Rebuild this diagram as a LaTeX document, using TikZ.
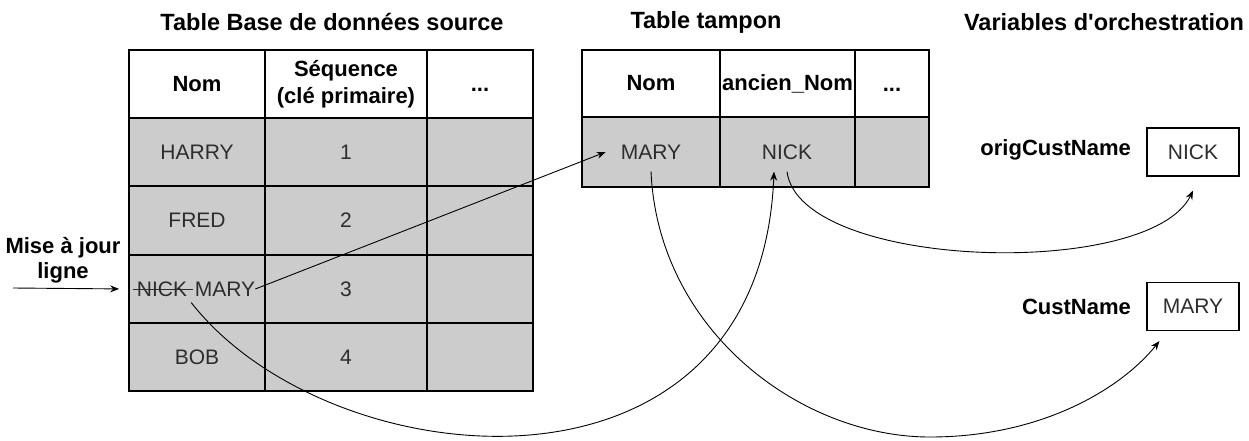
\documentclass[tikz,border=0pt]{standalone}
\usepackage{fontspec}
\setmainfont{Liberation Sans}[Ligatures=TeXOff]
\usetikzlibrary{arrows.meta}
\definecolor{cellgray}{RGB}{204,204,204}
\definecolor{txtgray}{RGB}{45,45,45}
\begin{document}
\begin{tikzpicture}[x=1pt,y=-1pt,
  font=\fontsize{21}{25}\selectfont,
  base/.style={draw=black, line width=1.7pt, inner sep=0pt, align=center},
  hcell/.style={base, fill=white, font=\fontsize{22}{27}\selectfont\bfseries},
  dcell/.style={base, fill=cellgray, text=txtgray},
  txt/.style={inner sep=0pt, text=txtgray},
  title/.style={inner sep=0pt, font=\fontsize{23.5}{25}\selectfont\bfseries},
  vlabel/.style={inner sep=0pt, font=\fontsize{22}{25}\selectfont\bfseries},
  vbox/.style={draw=black, line width=1.1pt, fill=white, text=txtgray, minimum width=92pt, minimum height=48pt, inner sep=0pt},
  arr/.style={line width=0.9pt, -{Stealth[length=9pt,width=7pt]}}]
\useasboundingbox (0,0) rectangle (1249,440);

% titles
\node[title] (t1) at (332,22) {Table Base de données source};
\node[title] (t2) at (706,22) {Table tampon};
\node[title] (t3) at (1104,22) {Variables d'orchestration};

% source table header
\node[hcell, minimum width=136pt, minimum height=68pt] (s00) at (197,84) {Nom};
\node[hcell, minimum width=162pt, minimum height=68pt] (s01) at (346,84) {Séquence\\(clé primaire)};
\node[hcell, minimum width=106pt, minimum height=68pt] (s02) at (480,84) {\vphantom{N}...};
% rows
\node[dcell, minimum width=136pt, minimum height=68pt] (s10) at (197,152) {HARRY};
\node[dcell, minimum width=162pt, minimum height=68pt] (s11) at (346,152) {1};
\node[dcell, minimum width=106pt, minimum height=68pt] (s12) at (480,152) {};
\node[dcell, minimum width=136pt, minimum height=69pt] (s20) at (197,220.5) {FRED};
\node[dcell, minimum width=162pt, minimum height=69pt] (s21) at (346,220.5) {2};
\node[dcell, minimum width=106pt, minimum height=69pt] (s22) at (480,220.5) {};
\node[dcell, minimum width=136pt, minimum height=68pt] (s30) at (197,289) {};
\node[dcell, minimum width=162pt, minimum height=68pt] (s31) at (346,289) {3};
\node[dcell, minimum width=106pt, minimum height=68pt] (s32) at (480,289) {};
\node[dcell, minimum width=136pt, minimum height=68pt] (s40) at (197,357) {BOB};
\node[dcell, minimum width=162pt, minimum height=68pt] (s41) at (346,357) {4};
\node[dcell, minimum width=106pt, minimum height=68pt] (s42) at (480,357) {};
\node[txt] (nick) at (162,289) {NICK};
\node[txt] (mary3) at (225,289) {MARY};
\draw[line width=1pt, txtgray] ([xshift=-4pt]nick.west) -- ([xshift=6pt]nick.east);

% buffer table
\node[hcell, minimum width=138pt, minimum height=67pt] (b00) at (651,83.5) {Nom};
\node[hcell, minimum width=135pt, minimum height=67pt] (b01) at (787.5,83.5) {ancien\_Nom};
\node[hcell, minimum width=74pt, minimum height=67pt] (b02) at (892,83.5) {\vphantom{N}...};
\node[dcell, minimum width=138pt, minimum height=70pt] (b10) at (651,152) {};
\node[dcell, minimum width=135pt, minimum height=70pt] (b11) at (787.5,152) {};
\node[dcell, minimum width=74pt, minimum height=70pt] (b12) at (892,152) {};
\node[txt] (bmary) at (651,152) {MARY};
\node[txt] (bnick) at (787,152) {NICK};

% variables
\node[vlabel, anchor=east] (lorig) at (1131,150) {origCustName};
\node[vbox] (vnick) at (1193,152) {NICK};
\node[vlabel, anchor=east] (lcust) at (1131,307) {CustName};
\node[vbox] (vmary) at (1193,306.5) {MARY};

% update label and arrow
\node[vlabel, align=center] (maj) at (63,260) {Mise à jour\\ligne};
\coordinate (majstart) at (13,288);
\draw[arr, shorten >=9pt] (majstart) -- (s30.west);

% connectors
\draw[arr] (mary3.east) -- ([xshift=-15pt]bmary.west);
\draw[arr] ([xshift=4pt,yshift=-6pt]nick.south east) .. controls (330,480) and (760,520) .. ([xshift=-13pt,yshift=-12pt]bnick.south);
\coordinate (bot3) at (930,437);
\draw[arr] ([yshift=-12pt]bmary.south) .. controls (658,330) and (800,437) .. (bot3) .. controls (1040,437) and (1120,390) .. ([shift={(13pt,-10pt)}]vmary.south west);
\draw[arr] ([yshift=-12pt]bnick.south) .. controls (800,270) and (1150,280) .. ([yshift=-14pt]vnick.south);
\end{tikzpicture}
\end{document}
